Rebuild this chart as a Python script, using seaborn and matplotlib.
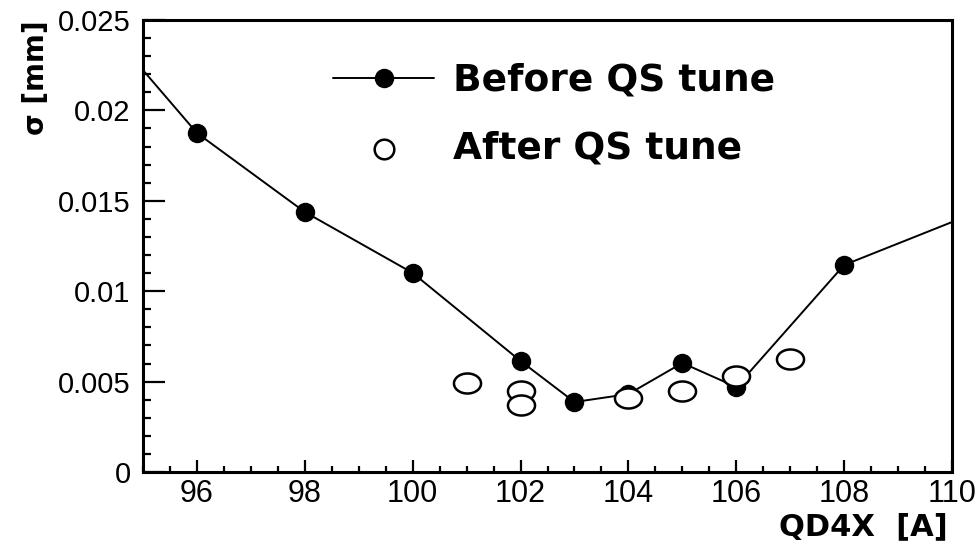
import numpy as np
import pandas as pd
import matplotlib
matplotlib.use("Agg")
import matplotlib.pyplot as plt
import seaborn as sns
from matplotlib.path import Path
from matplotlib.transforms import Affine2D
from matplotlib.ticker import FixedLocator, FixedFormatter, MultipleLocator

# Beam size sigma [mm] versus QD4X current [A]
qd4x_before = [94, 96, 98, 100, 102, 103, 104, 105, 106, 108, 112]
sigma_before = [0.0257, 0.01875, 0.01438, 0.01101, 0.00614, 0.00387,
                0.00431, 0.00603, 0.0047, 0.01145, 0.0162]

qd4x_after = [101, 102, 102, 104, 105, 106, 107]
sigma_after = [0.00492, 0.00448, 0.00371, 0.00409, 0.00448, 0.00531, 0.00625]

series_labels = ["Before QS tune", "After QS tune"]

x_ticks = [96, 98, 100, 102, 104, 106, 108, 110]
x_tick_labels = ["96", "98", "100", "102", "104", "106", "108", "110"]
y_ticks = [0, 0.005, 0.01, 0.015, 0.02, 0.025]
y_tick_labels = ["0", "0.005", "0.01", "0.015", "0.02", "0.025"]

x_title = "QD4X  [A]"
y_title = "\u03c3 [mm]"

sns.set_style("ticks")
plt.rcParams["font.family"] = ["Liberation Sans", "DejaVu Sans"]
plt.rcParams["text.color"] = "black"
plt.rcParams["axes.labelcolor"] = "black"
plt.rcParams["xtick.color"] = "black"
plt.rcParams["ytick.color"] = "black"

df_before = pd.DataFrame({"qd4x": qd4x_before, "sigma": sigma_before})
df_after = pd.DataFrame({"qd4x": qd4x_after, "sigma": sigma_after})

fig = plt.figure(figsize=(9.76, 5.42), dpi=100)
ax = fig.add_axes([143 / 976, 1 - 472 / 542, 809 / 976, 452 / 542])

# flattened open-circle marker
t = np.linspace(0, 2 * np.pi, 61)
ellipse = Path(np.column_stack([np.cos(t), 0.74 * np.sin(t)]), closed=True)

sns.lineplot(data=df_before, x="qd4x", y="sigma", sort=False, ax=ax,
             color="black", linewidth=1.4, marker="o", markersize=14,
             markeredgewidth=0, markerfacecolor="black",
             label=series_labels[0], zorder=2)
sns.scatterplot(data=df_after, x="qd4x", y="sigma", ax=ax,
                marker=ellipse, s=380, facecolor="white", edgecolor="black",
                linewidth=1.8, label=series_labels[1], zorder=3)

ax.set_xlim(95, 110)
ax.set_ylim(0, 0.025)

ax.xaxis.set_major_locator(FixedLocator(x_ticks))
ax.xaxis.set_major_formatter(FixedFormatter(x_tick_labels))
ax.xaxis.set_minor_locator(MultipleLocator(0.5))
ax.yaxis.set_major_locator(FixedLocator(y_ticks))
ax.yaxis.set_major_formatter(FixedFormatter(y_tick_labels))
ax.yaxis.set_minor_locator(MultipleLocator(0.001))

for s in ax.spines.values():
    s.set_visible(True)
    s.set_linewidth(2.2)
    s.set_color("black")

ax.tick_params(axis="x", which="major", direction="in", length=9, width=1.6,
               labelsize=22, pad=5, colors="black")
ax.tick_params(axis="x", which="minor", direction="in", length=4, width=1.6)
ax.tick_params(axis="y", which="major", direction="in", length=16, width=1.6,
               labelsize=21, pad=9, colors="black")
ax.tick_params(axis="y", which="minor", direction="in", length=6, width=1.6)
ax.tick_params(top=False, right=False, which="both")

ax.set_xlabel(x_title, loc="right", fontsize=22, fontweight="bold",
              family="DejaVu Sans", color="black")
ax.xaxis.set_label_coords(0.995, -0.09)
ax.set_ylabel(y_title, loc="top", fontsize=20, fontweight="bold",
              family="DejaVu Sans", color="black")
ax.yaxis.set_label_coords(-0.115, 1.0)

leg = ax.legend(loc="upper left", bbox_to_anchor=(0.235, 0.905), frameon=False,
                prop={"family": "DejaVu Sans", "weight": "bold", "size": 27},
                handlelength=2.7, handletextpad=0.5, labelspacing=0.85,
                borderpad=0, borderaxespad=0)
for txt in leg.get_texts():
    txt.set_color("black")
# legend key for the open markers is a plain small circle
open_key = leg.legend_handles[1]
open_key.set_paths([Path.unit_circle().transformed(Affine2D().scale(0.5))])
open_key.set_sizes([200])

fig.savefig("out.png", dpi=100, facecolor="white")
